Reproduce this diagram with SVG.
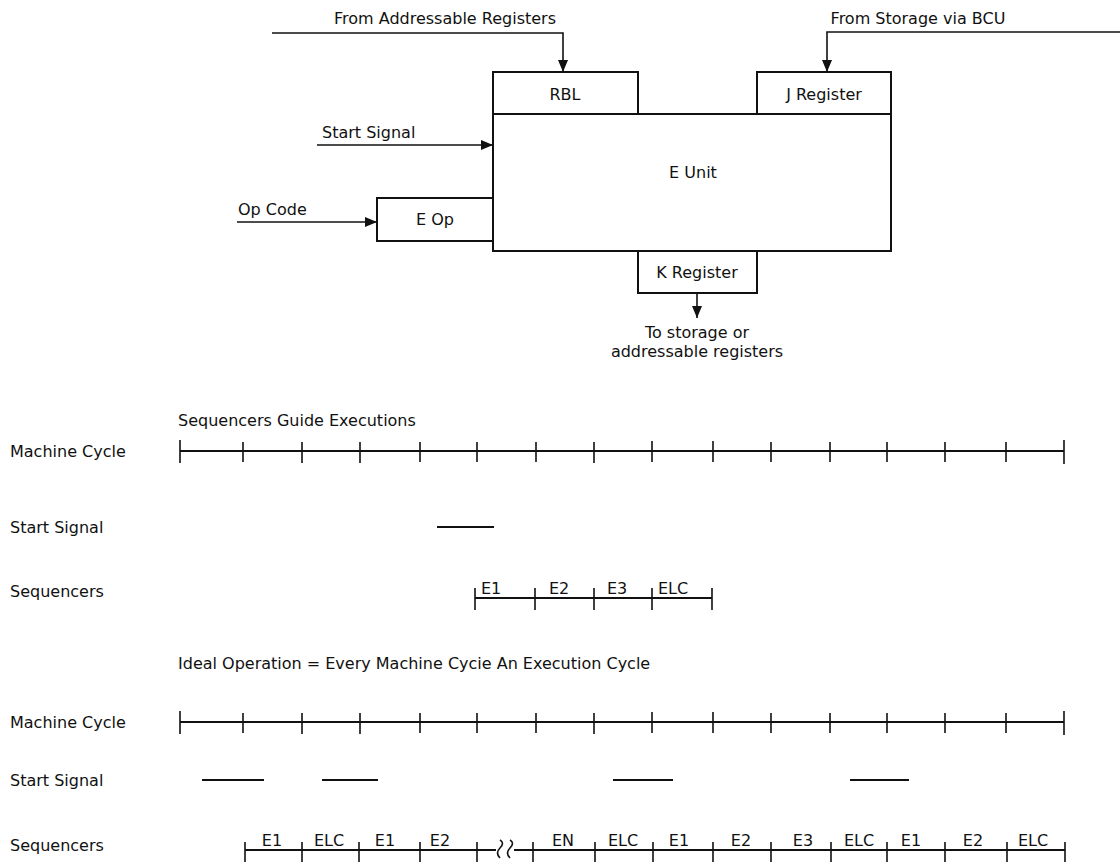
<svg xmlns="http://www.w3.org/2000/svg" width="1120" height="862" viewBox="0 0 1120 862">
<defs>
<marker id="ah" viewBox="0 0 12 10" refX="12" refY="5" markerWidth="12" markerHeight="10" markerUnits="userSpaceOnUse" orient="auto">
<path d="M0,0 L12,5 L0,10 z" fill="#111"/>
</marker>
<style>
text{font-family:"DejaVu Sans","Liberation Sans",sans-serif;font-size:16px;fill:#111}
.c{text-anchor:middle}
.box{fill:#fff;stroke:#111;stroke-width:2}
.ln{fill:none;stroke:#111;stroke-width:1.6}
.tl{fill:none;stroke:#111;stroke-width:2}
.tk{stroke:#111;stroke-width:1.6}
</style>
</defs>
<rect width="1120" height="862" fill="#fff"/>

<g id="connectors">
<path class="ln" d="M272,33 H563 V72" marker-end="url(#ah)"/>
<path class="ln" d="M1120,32 H827 V72" marker-end="url(#ah)"/>
<path class="ln" d="M317,145 H493" marker-end="url(#ah)"/>
<path class="ln" d="M237,222 H377" marker-end="url(#ah)"/>
<path class="ln" d="M697,293 V318" marker-end="url(#ah)"/>
</g>
<text class="c" x="445" y="24">From Addressable Registers</text>
<text class="c" x="918" y="24">From Storage via BCU</text>
<text x="322" y="138">Start Signal</text>
<text x="238" y="215">Op Code</text>
<text class="c" x="697" y="338">To storage or</text>
<text class="c" x="697" y="357">addressable registers</text>

<g id="eunit"><rect class="box" x="493" y="114" width="398" height="137"/><text class="c" x="693" y="178">E Unit</text></g>
<g id="rbl"><rect class="box" x="493" y="72" width="145" height="42"/><text class="c" x="565" y="100">RBL</text></g>
<g id="jreg"><rect class="box" x="757" y="72" width="134" height="42"/><text class="c" x="824" y="100">J Register</text></g>
<g id="eop"><rect class="box" x="377" y="198" width="116" height="43"/><text class="c" x="435" y="225">E Op</text></g>
<g id="kreg"><rect class="box" x="638" y="251" width="119" height="42"/><text class="c" x="697" y="278">K Register</text></g>

<g id="timing1">
<text x="178" y="426">Sequencers Guide Executions</text>
<text x="10" y="457">Machine Cycle</text>
<text x="10" y="533">Start Signal</text>
<text x="10" y="597">Sequencers</text>
<line class="tl" x1="180" y1="451" x2="1064" y2="451"/>
<path class="tk" d="M180,440V463M243,442V462M302,442V463M360,442V463M420,442V462M477,442V462M536,442V462M594,442V463M652,441V462M713,441V462M771,442V462M830,442V462M887,442V462M945,442V462M1006,442V462M1064,440V464"/>
<line class="tl" x1="437" y1="527" x2="494" y2="527"/>
<line class="tl" x1="475" y1="598" x2="712" y2="598"/>
<path class="tk" d="M475,588V610M535,588V610M594,588V610M652,588V610M712,588V610"/>
<text x="481" y="594">E1</text>
<text x="549" y="594">E2</text>
<text x="607" y="594">E3</text>
<text x="658" y="594">ELC</text>
</g>

<g id="timing2">
<text x="178" y="669">Ideal Operation = Every Machine Cycie An Execution Cycle</text>
<text x="10" y="728">Machine Cycle</text>
<text x="10" y="786">Start Signal</text>
<text x="10" y="851">Sequencers</text>
<line class="tl" x1="180" y1="722" x2="1064" y2="722"/>
<path class="tk" d="M180,711V734M243,713V733M302,713V734M360,713V734M420,713V733M477,713V733M536,713V733M594,713V734M652,712V733M713,712V733M771,713V733M830,713V733M887,713V733M945,713V733M1006,713V733M1064,711V735"/>
<line class="tl" x1="202" y1="780" x2="264" y2="780"/>
<line class="tl" x1="322" y1="780" x2="378" y2="780"/>
<line class="tl" x1="613" y1="780" x2="673" y2="780"/>
<line class="tl" x1="850" y1="780" x2="909" y2="780"/>
<path class="tl" d="M245,850H496M514,850H1065"/>
<path class="ln" d="M500,840 q5,3 0,8 q-5,5 0,10 M510,840 q5,3 0,8 q-5,5 0,10"/>
<path class="tk" d="M245,842V862M302,842V862M359,842V862M420,842V862M477,842V862M533,842V862M595,842V862M653,842V862M713,842V862M771,842V862M831,842V862M887,842V862M945,842V862M1007,842V862M1065,842V862"/>
<g class="c">
<text class="c" x="272" y="846">E1</text>
<text class="c" x="329" y="846">ELC</text>
<text class="c" x="385" y="846">E1</text>
<text class="c" x="440" y="846">E2</text>
<text class="c" x="563" y="846">EN</text>
<text class="c" x="623" y="846">ELC</text>
<text class="c" x="679" y="846">E1</text>
<text class="c" x="741" y="846">E2</text>
<text class="c" x="803" y="846">E3</text>
<text class="c" x="859" y="846">ELC</text>
<text class="c" x="911" y="846">E1</text>
<text class="c" x="973" y="846">E2</text>
<text class="c" x="1033" y="846">ELC</text>
</g>
</g>
</svg>
